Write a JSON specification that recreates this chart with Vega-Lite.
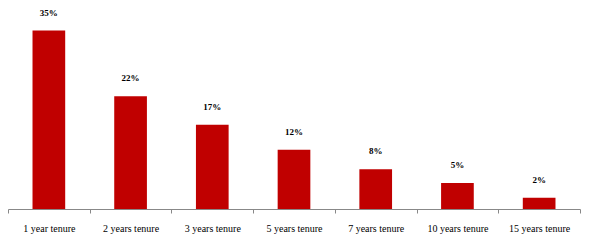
{
  "$schema": "https://vega.github.io/schema/vega-lite/v6.json",
  "width": 572,
  "height": 204,
  "autosize": "none",
  "padding": {"left": 8, "top": 5, "right": 10, "bottom": 39},
  "background": "white",
  "config": {"view": {"stroke": null}},
  "data": {"values": [
    {"tenure": "1 year  tenure", "pct": 35, "label": "35%"},
    {"tenure": "2 years  tenure", "pct": 22.1, "label": "22%"},
    {"tenure": "3 years  tenure", "pct": 16.5, "label": "17%"},
    {"tenure": "5 years  tenure", "pct": 11.6, "label": "12%"},
    {"tenure": "7 years  tenure", "pct": 7.8, "label": "8%"},
    {"tenure": "10 years  tenure", "pct": 5.1, "label": "5%"},
    {"tenure": "15 years  tenure", "pct": 2.2, "label": "2%"}
  ]},
  "encoding": {
    "x": {"field": "tenure", "type": "nominal", "sort": null,
      "scale": {"paddingInner": 0, "paddingOuter": 0},
      "axis": {"title": null, "labelAngle": 0, "tickBand": "extent", "domainColor": "#888888", "tickColor": "#888888", "tickSize": 4, "labelPadding": 10, "labelFont": "Liberation Serif", "labelFontSize": 10, "labelColor": "#000000"}},
    "y": {"field": "pct", "type": "quantitative", "scale": {"domain": [0, 40]}, "axis": null}
  },
  "layer": [
    {"mark": {"type": "bar", "color": "#C00000", "width": {"band": 0.4}}},
    {"mark": {"type": "text", "dy": -18, "font": "Liberation Serif", "fontSize": 9, "fontWeight": "bold", "color": "#000000", "baseline": "middle"},
     "encoding": {"text": {"field": "label", "type": "nominal"}}}
  ]
}
